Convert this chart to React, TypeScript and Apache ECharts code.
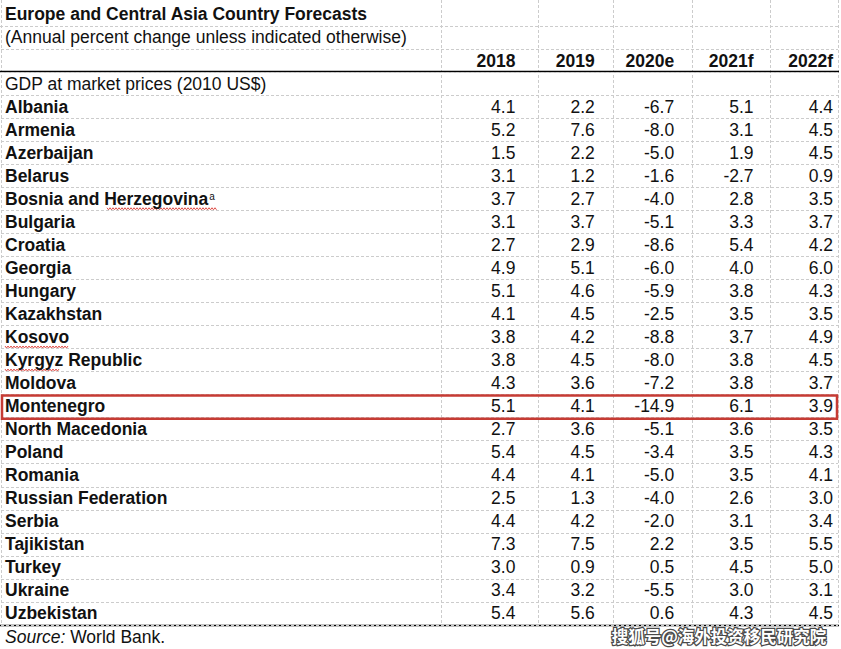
import React, { useEffect, useRef } from 'react';
import * as echarts from 'echarts';

const title = 'Europe and Central Asia Country Forecasts';
const subtitle = '(Annual percent change unless indicated otherwise)';
const columns = ['2018', '2019', '2020e', '2021f', '2022f'];
const sectionLabel = 'GDP at market prices (2010 US$)';
const countries = [
  'Albania', 'Armenia', 'Azerbaijan', 'Belarus', 'Bosnia and Herzegovina', 'Bulgaria',
  'Croatia', 'Georgia', 'Hungary', 'Kazakhstan', 'Kosovo', 'Kyrgyz Republic', 'Moldova',
  'Montenegro', 'North Macedonia', 'Poland', 'Romania', 'Russian Federation', 'Serbia',
  'Tajikistan', 'Turkey', 'Ukraine', 'Uzbekistan',
];
const v2018 = [4.1, 5.2, 1.5, 3.1, 3.7, 3.1, 2.7, 4.9, 5.1, 4.1, 3.8, 3.8, 4.3, 5.1, 2.7, 5.4, 4.4, 2.5, 4.4, 7.3, 3.0, 3.4, 5.4];
const v2019 = [2.2, 7.6, 2.2, 1.2, 2.7, 3.7, 2.9, 5.1, 4.6, 4.5, 4.2, 4.5, 3.6, 4.1, 3.6, 4.5, 4.1, 1.3, 4.2, 7.5, 0.9, 3.2, 5.6];
const v2020 = [-6.7, -8.0, -5.0, -1.6, -4.0, -5.1, -8.6, -6.0, -5.9, -2.5, -8.8, -8.0, -7.2, -14.9, -5.1, -3.4, -5.0, -4.0, -2.0, 2.2, 0.5, -5.5, 0.6];
const v2021 = [5.1, 3.1, 1.9, -2.7, 2.8, 3.3, 5.4, 4.0, 3.8, 3.5, 3.7, 3.8, 3.8, 6.1, 3.6, 3.5, 3.5, 2.6, 3.1, 3.5, 4.5, 3.0, 4.3];
const v2022 = [4.4, 4.5, 4.5, 0.9, 3.5, 3.7, 4.2, 6.0, 4.3, 3.5, 4.9, 4.5, 3.7, 3.9, 3.5, 4.3, 4.1, 3.0, 3.4, 5.5, 5.0, 3.1, 4.5];
const highlighted = 'Montenegro';
const footnoteCountry = 'Bosnia and Herzegovina';
const footnoteMark = 'a';
const spellChecked = ['Kosovo', 'Kyrgyz Republic'];
const sourceLabel = 'Source:';
const sourceText = ' World Bank.';
const watermark = '搜狐号@海外投资移民研究院';

const FONT = '"Liberation Sans", Arial, sans-serif';
const FS = 17.5;
const INK = '#111';
const GRID_COLOR = '#cccccc';

export default function App() {
  const ref = useRef<HTMLDivElement>(null);
  useEffect(() => {
    if (!ref.current) return;
    const chart = echarts.init(ref.current, undefined, { renderer: 'svg' });
    const series = [v2018, v2019, v2020, v2021, v2022];
    const rows = ['', sectionLabel, ...countries];
    type Cell = { col: number; row: number; text: string; bold: boolean };
    const cells: Cell[] = [];
    columns.forEach((c, ci) => cells.push({ col: ci, row: 0, text: c, bold: true }));
    series.forEach((vals, ci) =>
      vals.forEach((v, ri) => cells.push({ col: ci, row: ri + 2, text: v.toFixed(1), bold: false }))
    );
    const hiRow = rows.indexOf(highlighted);

    const vLines = [1, 441, 538, 613, 692, 770, 838].map((x) => ({
      type: 'line',
      shape: { x1: x + 0.5, y1: 0, x2: x + 0.5, y2: 625 },
      style: { stroke: GRID_COLOR, lineWidth: 1, lineDash: [3, 2] },
      silent: true,
    }));

    const option: any = {
      animation: false,
      backgroundColor: '#fff',
      grid: [
        { left: 1, right: 3, top: 49, bottom: 24 },
        { left: 441, right: 3, top: 49, bottom: 24 },
      ],
      xAxis: [
        { type: 'category', gridIndex: 0, data: [''], show: false },
        { type: 'category', gridIndex: 1, data: columns, show: false },
      ],
      yAxis: [
        {
          type: 'category',
          gridIndex: 0,
          data: rows,
          inverse: true,
          axisLine: { show: false },
          axisTick: { show: false },
          splitLine: { show: true, lineStyle: { color: GRID_COLOR, type: [3, 2], width: 1 } },
          axisLabel: {
            inside: true,
            align: 'left',
            margin: 4,
            interval: 0,
            formatter: (value: string, idx: number) => {
              if (idx === 0) return '';
              if (idx === 1) return `{r|${value}}`;
              if (value === footnoteCountry) return `{b|${value}}{sup|${footnoteMark}}`;
              return `{b|${value}}`;
            },
            rich: {
              r: { fontFamily: FONT, fontSize: FS, color: INK },
              b: { fontFamily: FONT, fontSize: FS, fontWeight: 'bold', color: INK },
              sup: { fontFamily: FONT, fontSize: 10, color: INK, verticalAlign: 'top', padding: [2, 0, 0, 1] },
            },
          },
        },
        {
          type: 'category',
          gridIndex: 1,
          data: rows,
          inverse: true,
          show: false,
        },
      ],
      series: [
        {
          type: 'custom',
          xAxisIndex: 1,
          yAxisIndex: 1,
          data: cells.map((c) => [c.col, c.row]),
          renderItem: (params: any, api: any) => {
            const cell = cells[params.dataIndex];
            const p = api.coord([api.value(0), api.value(1)]);
            const s = api.size([1, 1]);
            return {
              type: 'text',
              x: p[0] + s[0] / 2 - 5,
              y: p[1],
              style: {
                text: cell.text,
                align: 'right',
                verticalAlign: 'middle',
                fontFamily: FONT,
                fontSize: FS,
                fontWeight: cell.bold ? 'bold' : 'normal',
                fill: INK,
              },
            };
          },
        },
        {
          type: 'custom',
          xAxisIndex: 1,
          yAxisIndex: 1,
          data: [[columns.length - 1, hiRow]],
          renderItem: (params: any, api: any) => {
            const p = api.coord([api.value(0), api.value(1)]);
            const s = api.size([1, 1]);
            const right = p[0] + s[0] / 2 - 1;
            return {
              type: 'rect',
              shape: { x: 2, y: p[1] - s[1] / 2 + 1, width: right - 2, height: s[1] },
              style: { fill: 'none', stroke: '#c63b34', lineWidth: 2.5 },
            };
          },
        },
      ],
      graphic: [
        ...vLines,
        {
          type: 'line',
          shape: { x1: 0, y1: 26.5, x2: 838, y2: 26.5 },
          style: { stroke: GRID_COLOR, lineWidth: 1, lineDash: [3, 2] },
        },
        {
          type: 'line',
          shape: { x1: 0, y1: 71.5, x2: 839, y2: 71.5 },
          style: { stroke: '#000', lineWidth: 1.5 },
        },
        {
          type: 'line',
          shape: { x1: 0, y1: 625.5, x2: 839, y2: 625.5 },
          style: { stroke: '#000', lineWidth: 1.5 },
        },
        {
          type: 'text',
          x: 5,
          y: 14,
          style: { text: title, fontFamily: FONT, fontSize: FS, fontWeight: 'bold', fill: INK, verticalAlign: 'middle' },
        },
        {
          type: 'text',
          x: 5,
          y: 37,
          style: { text: subtitle, fontFamily: FONT, fontSize: FS, fill: INK, verticalAlign: 'middle' },
        },
        {
          type: 'text',
          x: 5,
          y: 637,
          style: {
            text: `{i|${sourceLabel}}{n|${sourceText}}`,
            verticalAlign: 'middle',
            rich: {
              i: { fontFamily: FONT, fontSize: FS, fontStyle: 'italic', fill: INK },
              n: { fontFamily: FONT, fontSize: FS, fill: INK },
            },
          },
        },
        {
          type: 'text',
          x: 719,
          y: 636,
          style: {
            text: watermark,
            align: 'center',
            verticalAlign: 'middle',
            fontFamily: '"Noto Sans CJK SC", sans-serif',
            fontSize: 16.5,
            fontWeight: 'bold',
            fill: '#fff',
            stroke: '#4a4a4a',
            lineWidth: 2.5,
          },
        },
      ],
    };
    chart.setOption(option);

    // red spell-check squiggles under some names, placed on their rows
    const squiggle = (x0: number, x1: number, y: number) => {
      const pts: number[][] = [];
      let k = 0;
      for (let x = x0; x <= x1; x += 1.5, k++) pts.push([x, y + (k % 2 === 0 ? -1 : 1)]);
      return {
        type: 'polyline',
        shape: { points: pts },
        style: { stroke: '#e0504a', lineWidth: 1, fill: 'none' },
        silent: true,
      };
    };
    const rowY = (name: string) => chart.convertToPixel({ yAxisIndex: 0 } as any, name) as unknown as number;
    const extra = [
      squiggle(107, 217, rowY(footnoteCountry) + 10),
      squiggle(5, 68, rowY(spellChecked[0]) + 10),
      squiggle(5, 60, rowY(spellChecked[1]) + 10),
    ];
    chart.setOption({ graphic: [...(option.graphic as any[]), ...extra] });

    return () => chart.dispose();
  }, []);
  return <div ref={ref} style={{ width: 841, height: 649, position: 'absolute', left: 0, top: 0 }} />;
}
